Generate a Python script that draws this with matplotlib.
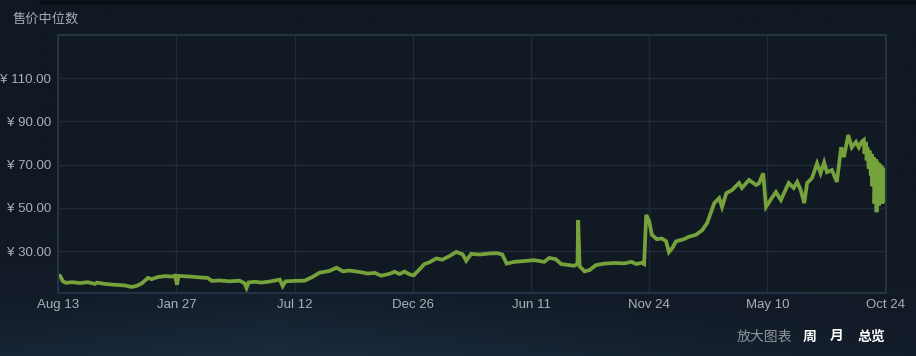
"""
Steam market median sale price chart (售价中位数)
"""
import numpy as np
import pandas as pd
import matplotlib
matplotlib.use("Agg")
import matplotlib.pyplot as plt
from matplotlib.colors import LinearSegmentedColormap

START = pd.Timestamp("2019-08-13")
END = pd.Timestamp("2022-10-24")

# day offset from START (10 per row)
days = [0, 3, 7, 11, 20, 31, 42, 52, 55, 66,
        80, 94, 104, 111, 118, 127, 132, 141, 151, 161,
        165, 168, 170, 186, 200, 211, 217, 228, 242, 256,
        263, 266, 269, 278, 287, 299, 313, 317, 321, 334,
        348, 359, 369, 383, 393, 402, 411, 426, 437, 447,
        456, 468, 475, 482, 489, 496, 502, 510, 517, 524,
        534, 542, 552, 562, 571, 576, 583, 595, 609, 620,
        627, 633, 644, 658, 672, 686, 693, 702, 710, 721,
        728, 733, 734, 736, 743, 750, 759, 771, 785, 799,
        809, 816, 824, 827, 830, 834, 838, 845, 852, 858,
        862, 867, 872, 883, 890, 900, 909, 916, 926, 933,
        937, 943, 951, 961, 965, 975, 985, 989, 995, 999,
        1007, 1013, 1020, 1031, 1038, 1043, 1048, 1053, 1057, 1064,
        1071, 1076, 1081, 1085, 1092, 1099, 1105, 1109, 1115, 1120,
        1126, 1130, 1134, 1137, 1138, 1140, 1141, 1142, 1144, 1145,
        1147, 1148, 1149, 1151, 1152, 1154, 1155, 1156, 1158, 1159,
        1161, 1162, 1163, 1165, 1166, 1168]
# median price in CNY (10 per row)
prices = [18.9, 18.5, 16.0, 15.3, 15.6, 15.2, 15.6, 14.8, 15.4, 14.8,
          14.4, 14.1, 13.4, 13.9, 15.0, 17.6, 17.0, 18.0, 18.4, 18.2,
          18.6, 14.5, 18.5, 18.2, 17.8, 17.6, 16.2, 16.4, 16.0, 16.3,
          15.2, 12.9, 15.5, 15.8, 15.4, 15.9, 16.8, 13.8, 16.0, 16.2,
          16.3, 18.0, 20.0, 20.8, 22.3, 20.6, 21.0, 20.3, 19.6, 19.9,
          18.6, 19.5, 20.4, 19.4, 20.5, 19.2, 18.8, 21.5, 24.0, 24.8,
          26.6, 26.0, 27.6, 29.6, 28.5, 25.5, 28.7, 28.4, 28.9, 29.0,
          28.4, 24.2, 25.0, 25.4, 25.8, 25.0, 26.8, 26.3, 24.0, 23.5,
          23.2, 24.0, 44.4, 23.0, 20.6, 21.2, 23.5, 24.2, 24.5, 24.3,
          25.0, 24.0, 24.6, 24.0, 46.7, 44.0, 37.5, 35.5, 35.8, 34.6,
          29.5, 31.5, 34.5, 35.5, 36.6, 37.5, 39.7, 43.0, 52.2, 54.5,
          50.4, 56.8, 58.2, 61.5, 59.2, 62.9, 60.6, 61.3, 66.0, 50.4,
          54.5, 57.3, 53.6, 61.5, 59.2, 62.0, 58.2, 52.2, 61.5, 63.8,
          70.6, 66.0, 71.0, 66.5, 67.5, 62.0, 78.0, 73.5, 83.7, 78.0,
          80.5, 78.0, 80.6, 81.4, 75.0, 80.5, 72.0, 78.0, 68.0, 76.5,
          65.0, 75.0, 60.0, 73.5, 52.0, 72.5, 48.0, 71.5, 51.0, 70.5,
          53.0, 69.5, 52.0, 68.5, 52.5, 67.0]

tick_dates = ["2019-08-13", "2020-01-27", "2020-07-12", "2020-12-26",
              "2021-06-11", "2021-11-24", "2022-05-10", "2022-10-24"]
tick_labels = ["Aug 13", "Jan 27", "Jul 12", "Dec 26", "Jun 11", "Nov 24",
               "May 10", "Oct 24"]
y_ticks = [30, 50, 70, 90, 110]

plt.rcParams["font.family"] = ["Liberation Sans", "Noto Sans CJK SC", "DejaVu Sans"]

x = [START + pd.Timedelta(days=d) for d in days]

fig = plt.figure(figsize=(9.16, 3.56), dpi=100)

# background with a faint blue glow at the bottom
bg = fig.add_axes([0, 0, 1, 1], zorder=-10)
bg.axis("off")
cmap = LinearSegmentedColormap.from_list("bg", ["#101822", "#121b27", "#1a2a3d"])
yy, xx = np.mgrid[0:1:200j, 0:1:400j]
glow = np.clip((yy - 0.55) / 0.45, 0, 1) * (1 - 0.6 * np.abs(xx - 0.3))
bg.imshow(glow, cmap=cmap, aspect="auto", extent=[0, 1, 0, 1], origin="upper",
          vmin=0, vmax=1)
bg.plot([0.045, 1], [0.994, 0.994], color="#0a0e14", lw=2.5)
bg.set_xlim(0, 1)
bg.set_ylim(0, 1)

ax = fig.add_axes([0.0633, 0.177, 0.9037, 0.7247])
ax.set_facecolor("#111923")
ax.plot(x, prices, color="#76a23b", lw=2.7, solid_joinstyle="miter")

ax.set_xlim(START, END)
ax.set_ylim(10.6, 130)
ax.set_xticks([pd.Timestamp(t) for t in tick_dates])
ax.set_xticklabels(tick_labels)
ax.set_yticks(y_ticks)
ax.set_yticklabels([f"¥ {v:.2f}" for v in y_ticks])
ax.grid(True, color="#1f2b3a", lw=1)
ax.set_axisbelow(True)
ax.tick_params(length=0, colors="#a9b0b8", labelsize=9.5, pad=4)
ax.tick_params(axis="y", pad=5)
for s in ax.spines.values():
    s.set_color("#243344")
    s.set_linewidth(1.5)

fig.text(0.014, 0.945, "售价中位数", color="#a4abb3", fontsize=9.5,
         family=["Noto Sans CJK SC"], va="center")
fig.text(0.804, 0.055, "放大图表", color="#8c949c", fontsize=10,
         family=["Noto Sans CJK SC"], va="center")
fig.text(0.876, 0.055, "周", color="#ffffff", fontsize=10, weight="bold",
         family=["Noto Sans CJK SC"], va="center")
fig.text(0.906, 0.055, "月", color="#ffffff", fontsize=10, weight="bold",
         family=["Noto Sans CJK SC"], va="center")
fig.text(0.936, 0.055, "总览", color="#ffffff", fontsize=10, weight="bold",
         family=["Noto Sans CJK SC"], va="center")

fig.savefig("out.png", dpi=100)
